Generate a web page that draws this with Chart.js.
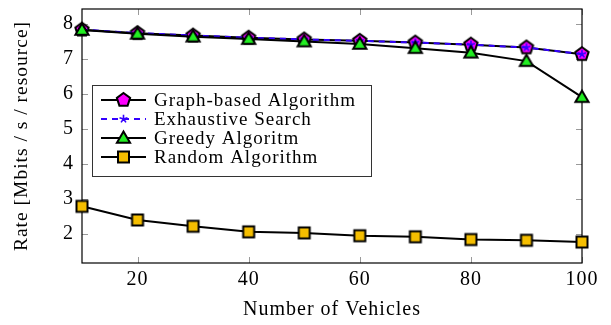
<!DOCTYPE html>
<html>
<head>
<meta charset="utf-8">
<script src="https://cdn.jsdelivr.net/npm/chart.js@4"></script>
<style>
  html, body { margin: 0; padding: 0; background: #fff; }
  #wrap { width: 611px; height: 325px; }
</style>
</head>
<body>
<div id="wrap"><canvas id="myChart" width="611" height="325"></canvas></div>
<script>
const vehicles = [10, 20, 30, 40, 50, 60, 70, 80, 90, 100]
const graphBased = [7.83, 7.73, 7.66, 7.60, 7.55, 7.51, 7.46, 7.40, 7.32, 7.13]
const exhaustive = [7.83, 7.73, 7.66, 7.60, 7.55, 7.51, 7.46, 7.40, 7.32, 7.13]
const greedy = [7.82, 7.71, 7.63, 7.56, 7.49, 7.42, 7.30, 7.17, 6.93, 5.90]
const random = [2.78, 2.39, 2.21, 2.05, 2.02, 1.94, 1.91, 1.83, 1.81, 1.76]
const xTicks = [20, 40, 60, 80, 100]
const yTicks = [2, 3, 4, 5, 6, 7, 8]

const serif = '"Liberation Serif", "DejaVu Serif", serif'

// marker images (pgfplots style)
function makeMark(draw) {
    const c = document.createElement('canvas')
    c.width = 20
    c.height = 20
    const ctx = c.getContext('2d')
    draw(ctx, 10, 10)
    return c
}

function pentagon(ctx, cx, cy) {
    ctx.beginPath()
    for (let i = 0; i < 5; i++) {
        const a = -Math.PI / 2 + i * 2 * Math.PI / 5
        const px = cx + 7 * Math.cos(a)
        const py = cy + 7 * Math.sin(a)
        i == 0 ? ctx.moveTo(px, py) : ctx.lineTo(px, py)
    }
    ctx.closePath()
    ctx.fillStyle = '#ff00ff'
    ctx.fill()
    ctx.lineWidth = 2
    ctx.strokeStyle = '#000'
    ctx.lineJoin = 'miter'
    ctx.stroke()
}

function star(ctx, cx, cy) {
    ctx.beginPath()
    for (let i = 0; i < 5; i++) {
        const a = -Math.PI / 2 + i * 2 * Math.PI / 5
        ctx.moveTo(cx, cy)
        ctx.lineTo(cx + 4.2 * Math.cos(a), cy + 4.2 * Math.sin(a))
    }
    ctx.lineWidth = 1.6
    ctx.strokeStyle = '#3300ff'
    ctx.stroke()
}

function triangle(ctx, cx, cy) {
    ctx.beginPath()
    for (let i = 0; i < 3; i++) {
        const a = -Math.PI / 2 + i * 2 * Math.PI / 3
        const px = cx + 7.6 * Math.cos(a)
        const py = cy + 1 + 7.6 * Math.sin(a)
        i == 0 ? ctx.moveTo(px, py) : ctx.lineTo(px, py)
    }
    ctx.closePath()
    ctx.fillStyle = '#22ee22'
    ctx.fill()
    ctx.lineWidth = 2
    ctx.strokeStyle = '#000'
    ctx.stroke()
}

function square(ctx, cx, cy) {
    ctx.fillStyle = '#f5be00'
    ctx.fillRect(cx - 5.5, cy - 5.5, 11, 11)
    ctx.lineWidth = 2
    ctx.strokeStyle = '#000'
    ctx.strokeRect(cx - 5.5, cy - 5.5, 11, 11)
}

const pentaImg = makeMark(pentagon)
const starImg = makeMark(star)
const triImg = makeMark(triangle)
const squareImg = makeMark(square)

const toPoints = (arr) => arr.map((v, i) => ({x: vehicles[i], y: v}))

const datasets = [{
    label: 'Graph-based Algorithm',
    data: toPoints(graphBased),
    borderColor: '#000',
    borderWidth: 2,
    pointStyle: pentaImg,
    order: 4,
    mark: pentagon
}, {
    label: 'Exhaustive Search',
    data: toPoints(exhaustive),
    borderColor: '#3300ff',
    borderWidth: 2,
    borderDash: [6, 5],
    pointStyle: starImg,
    order: 3,
    mark: star
}, {
    label: 'Greedy Algoritm',
    data: toPoints(greedy),
    borderColor: '#000',
    borderWidth: 2,
    pointStyle: triImg,
    order: 2,
    mark: triangle
}, {
    label: 'Random Algorithm',
    data: toPoints(random),
    borderColor: '#000',
    borderWidth: 2,
    pointStyle: squareImg,
    order: 1,
    mark: square
}]
datasets.forEach(d => { d.clip = false; d.tension = 0; d.fill = false })

// TeX text looks a bit spread out, so widen the canvas text
const spacingPlugin = {
    id: 'spacing',
    beforeLayout(chart) { chart.ctx.letterSpacing = '1px' },
    beforeDraw(chart) { chart.ctx.letterSpacing = '1px' }
}

// frame + inward ticks on all four sides
const framePlugin = {
    id: 'frame',
    beforeDatasetsDraw(chart) {
        const {ctx, chartArea: a, scales} = chart
        ctx.save()
        ctx.strokeStyle = '#9a9a9a'
        ctx.lineWidth = 1
        ctx.beginPath()
        scales.x.ticks.forEach(t => {
            const px = Math.round(scales.x.getPixelForValue(t.value)) + 0.5
            ctx.moveTo(px, a.bottom); ctx.lineTo(px, a.bottom - 6)
            ctx.moveTo(px, a.top); ctx.lineTo(px, a.top + 6)
        })
        scales.y.ticks.forEach(t => {
            const py = Math.round(scales.y.getPixelForValue(t.value)) + 0.5
            ctx.moveTo(a.left, py); ctx.lineTo(a.left + 6, py)
            ctx.moveTo(a.right, py); ctx.lineTo(a.right - 6, py)
        })
        ctx.stroke()
        ctx.strokeStyle = '#000'
        ctx.lineWidth = 1.2
        ctx.strokeRect(a.left, a.top, a.right - a.left, a.bottom - a.top)
        ctx.restore()
    }
}

// legend box inside the plot, like pgfplots
const legendPlugin = {
    id: 'texLegend',
    afterDraw(chart) {
        const {ctx, chartArea: a} = chart
        const left = a.left + 10, top = a.top + 76
        const w = 279, h = 91
        ctx.save()
        ctx.fillStyle = '#fff'
        ctx.fillRect(left, top, w, h)
        ctx.strokeStyle = '#333'
        ctx.lineWidth = 1
        ctx.strokeRect(left + 0.5, top + 0.5, w, h)
        chart.data.datasets.forEach((d, i) => {
            const y = top + 15 + i * 19
            ctx.beginPath()
            ctx.moveTo(left + 9, y)
            ctx.lineTo(left + 54, y)
            ctx.strokeStyle = d.borderColor
            ctx.lineWidth = d.borderWidth
            ctx.setLineDash(d.borderDash || [])
            ctx.stroke()
            ctx.setLineDash([])
            d.mark(ctx, left + 31.5, y)
            ctx.fillStyle = '#000'
            ctx.font = '19px ' + serif
            ctx.textBaseline = 'middle'
            ctx.fillText(d.label, left + 62, y + 1)
        })
        ctx.restore()
    }
}

const config = {
    type: 'line',
    data: { datasets: datasets },
    options: {
        responsive: false,
        animation: false,
        layout: { padding: { left: 0, right: 29, top: 5, bottom: 0 } },
        plugins: { legend: { display: false }, tooltip: { enabled: false } },
        elements: { point: { radius: 7 } },
        scales: {
            x: {
                type: 'linear',
                min: 10,
                max: 100,
                grid: { display: false, drawTicks: false },
                border: { display: false },
                afterBuildTicks: s => { s.ticks = xTicks.map(v => ({value: v})) },
                afterFit: s => { s.height = 62; s.paddingLeft = 0; s.paddingRight = 0 },
                ticks: { color: '#000', padding: 5, maxRotation: 0, font: { family: serif, size: 20 } },
                title: {
                    display: true,
                    text: 'Number of Vehicles',
                    color: '#000',
                    padding: { top: 0, bottom: 3 },
                    font: { family: serif, size: 20 }
                }
            },
            y: {
                min: 1.16,
                max: 8.42,
                grid: { display: false, drawTicks: false },
                border: { display: false },
                afterBuildTicks: s => { s.ticks = yTicks.map(v => ({value: v})) },
                afterFit: s => { s.width = 82; s.paddingTop = 0; s.paddingBottom = 0 },
                ticks: { color: '#000', padding: 8, font: { family: serif, size: 20, lineHeight: 0.5 } },
                title: {
                    display: true,
                    text: 'Rate [Mbits / s / resource]',
                    color: '#000',
                    padding: { top: 10, bottom: 0 },
                    font: { family: serif, size: 19.5 }
                }
            }
        }
    },
    plugins: [spacingPlugin, framePlugin, legendPlugin]
}

const myChart = new Chart(document.getElementById('myChart'), config)
</script>
</body>
</html>
